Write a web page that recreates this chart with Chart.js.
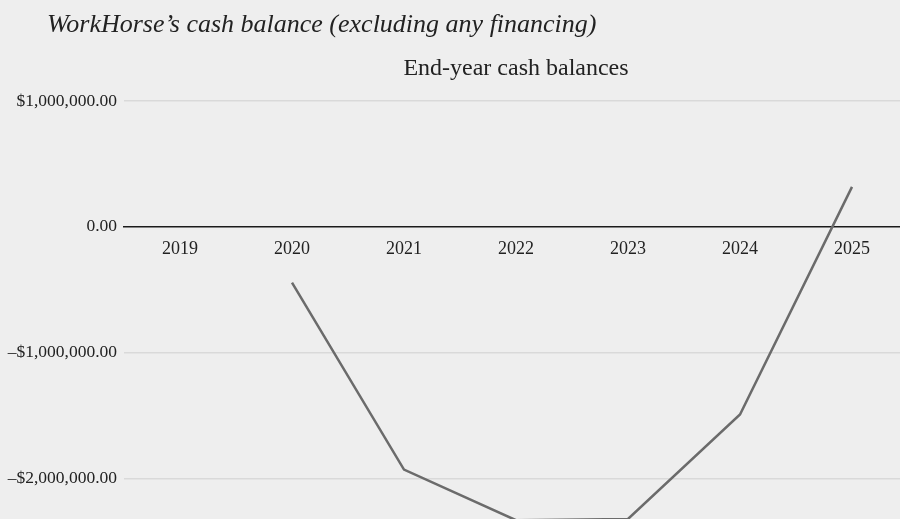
<!DOCTYPE html>
<html>
<head>
<meta charset="utf-8">
<script src="https://cdn.jsdelivr.net/npm/chart.js@4/dist/chart.umd.min.js"></script>
<style>
  html, body { margin: 0; padding: 0; background: #eeeeee; overflow: hidden; }
  #wrap { position: relative; width: 908px; height: 539px; }
  #heading {
    position: absolute; left: 47px; top: 9px;
    font: italic 26px "Liberation Serif", serif; color: #222;
  }
  canvas { position: absolute; left: 0; top: 0; }
</style>
</head>
<body>
<div id="wrap">
  <canvas id="chart-cash" width="908" height="539"></canvas>
  <div id="heading">WorkHorse’s cash balance (excluding any financing)</div>
</div>
<script>
// End-year cash balances, no financing included
const years = ['2019', '2020', '2021', '2022', '2023', '2024', '2025'];
const cashBalance = [null, -443000, -1928000, -2330000, -2320000, -1490000, 318000];
const tickValues = [1000000, 0, -1000000, -2000000];

const SERIF = '"Liberation Serif", serif';

function formatMoney(v) {
  if (v === 0) return '0.00';
  const s = '$' + Math.abs(v).toLocaleString('en-US', { minimumFractionDigits: 2, maximumFractionDigits: 2 });
  return v < 0 ? '–' + s : s;
}

// subtitle centred over the plot area rather than the whole canvas
const plotTitle = {
  id: 'plotTitle',
  afterDraw(chart) {
    const { ctx, chartArea } = chart;
    ctx.save();
    ctx.font = '24px ' + SERIF;
    ctx.fillStyle = '#222';
    ctx.textAlign = 'center';
    ctx.textBaseline = 'middle';
    ctx.fillText('End-year cash balances', (chartArea.left + chartArea.right) / 2, 69);
    ctx.restore();
  }
};

new Chart(document.getElementById('chart-cash'), {
  type: 'line',
  data: {
    labels: years,
    datasets: [{
      data: cashBalance,
      borderColor: '#6b6b6b',
      borderWidth: 2.5,
      pointRadius: 0,
      tension: 0,
    }]
  },
  options: {
    responsive: false,
    animation: false,
    layout: { padding: { top: 101, right: 0, bottom: 0, left: 0 }, autoPadding: false },
    plugins: { legend: { display: false }, tooltip: { enabled: false } },
    scales: {
      x: {
        position: { y: 0 },
        offset: true,
        afterFit: scale => { scale.height = 0; },
        grid: { display: false, drawTicks: false },
        border: { color: '#1a1a1a', width: 1.5 },
        ticks: { color: '#222', padding: 12, font: { family: SERIF, size: 18 } },
      },
      y: {
        min: -2340000,
        max: 1000000,
        afterBuildTicks: scale => { scale.ticks = tickValues.map(v => ({ value: v })); },
        afterFit: scale => { scale.width = 124; },
        grid: {
          drawTicks: false,
          lineWidth: 1.5,
          color: c => c.tick && c.tick.value === 0 ? 'rgba(0,0,0,0)' : '#d9d9d9',
        },
        border: { display: false },
        ticks: {
          color: '#222',
          padding: 7,
          font: { family: SERIF, size: 17.5 },
          callback: v => formatMoney(v),
        },
      }
    }
  },
  plugins: [plotTitle]
});
</script>
</body>
</html>
